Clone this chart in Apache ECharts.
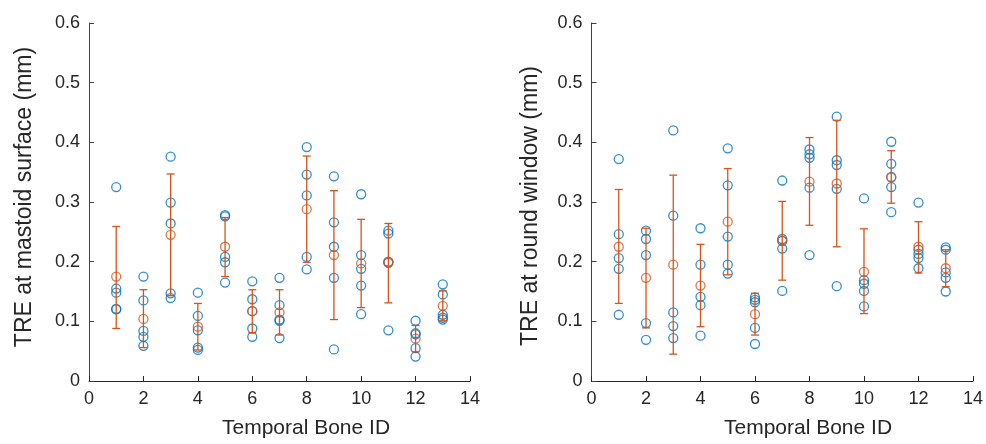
<!DOCTYPE html>
<html>
<head>
<meta charset="utf-8">
<script src="https://cdn.jsdelivr.net/npm/echarts@6/dist/echarts.min.js"></script>
<style>
html,body{margin:0;padding:0;background:#fff;}
#c{width:986px;height:444px;}
</style>
</head>
<body>
<div id="c"></div>
<script>
// ---- data ----
var bones = [1,2,3,4,5,6,7,8,9,10,11,12,13];
var xTicks = [0,2,4,6,8,10,12,14];
var yTicks = [0,0.1,0.2,0.3,0.4,0.5,0.6];

// left panel: TRE at mastoid surface (mm)
var mastoidValues = [
  [0.325,0.155,0.148,0.121,0.120],
  [0.175,0.135,0.084,0.074,0.059],
  [0.376,0.299,0.264,0.147,0.139],
  [0.148,0.109,0.085,0.056,0.052],
  [0.278,0.276,0.208,0.199,0.165],
  [0.167,0.137,0.117,0.088,0.074],
  [0.173,0.127,0.103,0.101,0.072],
  [0.392,0.346,0.311,0.208,0.187],
  [0.343,0.266,0.225,0.173,0.053],
  [0.313,0.211,0.188,0.160,0.112],
  [0.252,0.247,0.200,0.198,0.085],
  [0.101,0.080,0.078,0.055,0.041],
  [0.162,0.145,0.111,0.106,0.103]
];
var mastoidMean = [0.175,0.104,0.245,0.091,0.225,0.117,0.115,0.288,0.211,0.197,0.199,0.071,0.126];
var mastoidHigh = [0.259,0.153,0.347,0.130,0.274,0.153,0.153,0.377,0.319,0.271,0.264,0.093,0.151];
var mastoidLow  = [0.088,0.056,0.143,0.052,0.175,0.081,0.077,0.199,0.103,0.123,0.131,0.049,0.101];

// right panel: TRE at round window (mm)
var roundValues = [
  [0.372,0.246,0.206,0.188,0.111],
  [0.252,0.238,0.211,0.097,0.069],
  [0.420,0.277,0.115,0.092,0.072],
  [0.256,0.195,0.141,0.127,0.076],
  [0.390,0.328,0.242,0.195,0.180],
  [0.140,0.136,0.132,0.089,0.062],
  [0.336,0.238,0.235,0.222,0.151],
  [0.388,0.380,0.374,0.324,0.211],
  [0.443,0.370,0.362,0.322,0.159],
  [0.306,0.169,0.163,0.151,0.125],
  [0.401,0.364,0.342,0.325,0.283],
  [0.299,0.220,0.213,0.206,0.189],
  [0.224,0.220,0.182,0.173,0.150]
];
var roundMean = [0.225,0.173,0.195,0.160,0.267,0.112,0.235,0.334,0.331,0.183,0.341,0.225,0.189];
var roundHigh = [0.321,0.256,0.345,0.229,0.356,0.147,0.301,0.408,0.437,0.255,0.386,0.267,0.220];
var roundLow  = [0.130,0.089,0.045,0.091,0.178,0.077,0.169,0.261,0.225,0.113,0.298,0.181,0.158];

var xTitle = 'Temporal Bone ID';
var yTitles = ['TRE at mastoid surface (mm)', 'TRE at round window (mm)'];

// ---- styling ----
var BLUE = '#0072BD', ORANGE = '#D95319', AX = '#262626';
var FONT = '"Liberation Sans", Arial, sans-serif';

function pts(vals){
  var out = [];
  bones.forEach(function(b,i){ vals[i].forEach(function(v){ out.push([b,v]); }); });
  return out;
}
function meanPts(m){ return bones.map(function(b,i){ return [b,m[i]]; }); }
function barPts(lo,hi){ return bones.map(function(b,i){ return [b,lo[i],hi[i]]; }); }

function errRender(params, api){
  var x = api.value(0);
  var p1 = api.coord([x, api.value(1)]);
  var p2 = api.coord([x, api.value(2)]);
  var w = 4;
  var st = {stroke: ORANGE, lineWidth: 1.3};
  return {type:'group', children:[
    {type:'line', shape:{x1:p1[0],y1:p1[1],x2:p2[0],y2:p2[1]}, style:st},
    {type:'line', shape:{x1:p1[0]-w,y1:p1[1],x2:p1[0]+w,y2:p1[1]}, style:st},
    {type:'line', shape:{x1:p2[0]-w,y1:p2[1],x2:p2[0]+w,y2:p2[1]}, style:st}
  ]};
}

function xAxisCfg(idx){
  return {
    gridIndex: idx, type:'value', min: xTicks[0], max: xTicks[xTicks.length-1], interval: 2,
    axisLine:{show:true, onZero:false, lineStyle:{color:AX, width:1}},
    axisTick:{show:true, inside:true, length:5, lineStyle:{color:AX}},
    axisLabel:{color:AX, fontSize:18, fontFamily:FONT, margin:9},
    splitLine:{show:false}
  };
}
function yAxisCfg(idx){
  return {
    gridIndex: idx, type:'value', min: yTicks[0], max: yTicks[yTicks.length-1], interval: 0.1,
    axisLine:{show:true, onZero:false, lineStyle:{color:'#404040', width:1}},
    axisTick:{show:true, inside:true, length:5, lineStyle:{color:'#404040'}},
    axisLabel:{color:AX, fontSize:18, fontFamily:FONT, margin:9,
      formatter:function(v){ return String(+v.toFixed(1)); }},
    splitLine:{show:false}
  };
}

function seriesFor(idx, vals, mean, lo, hi){
  return [
    {type:'scatter', xAxisIndex:idx, yAxisIndex:idx, data:pts(vals), symbol:'circle', symbolSize:9,
     itemStyle:{color:'rgba(0,0,0,0)', borderColor:BLUE, borderWidth:1.3}, silent:true, z:2},
    {type:'custom', xAxisIndex:idx, yAxisIndex:idx, data:barPts(lo,hi), renderItem:errRender, silent:true, z:3},
    {type:'scatter', xAxisIndex:idx, yAxisIndex:idx, data:meanPts(mean), symbol:'circle', symbolSize:9,
     itemStyle:{color:'rgba(0,0,0,0)', borderColor:ORANGE, borderWidth:1.3}, silent:true, z:4}
  ];
}

var chart = echarts.init(document.getElementById('c'), null, {renderer:'canvas'});
chart.setOption({
  animation:false,
  backgroundColor:'#fff',
  grid:[
    {left:89, top:23, width:381, height:358},
    {left:591.5, top:23, width:382, height:358}
  ],
  xAxis:[xAxisCfg(0), xAxisCfg(1)],
  yAxis:[yAxisCfg(0), yAxisCfg(1)],
  series: seriesFor(0, mastoidValues, mastoidMean, mastoidLow, mastoidHigh)
    .concat(seriesFor(1, roundValues, roundMean, roundLow, roundHigh)),
  graphic:[
    {type:'text', x:306, y:428, style:{text:xTitle, font:'21px '+FONT, fill:AX, align:'center', verticalAlign:'middle'}},
    {type:'text', x:808, y:428, style:{text:xTitle, font:'21px '+FONT, fill:AX, align:'center', verticalAlign:'middle'}},
    {type:'text', x:25, y:197, rotation:Math.PI/2, style:{text:yTitles[0], font:'23px '+FONT, fill:AX, align:'center', verticalAlign:'middle'}},
    {type:'text', x:531, y:206, rotation:Math.PI/2, style:{text:yTitles[1], font:'23px '+FONT, fill:AX, align:'center', verticalAlign:'middle'}}
  ]
});
</script>
</body>
</html>
